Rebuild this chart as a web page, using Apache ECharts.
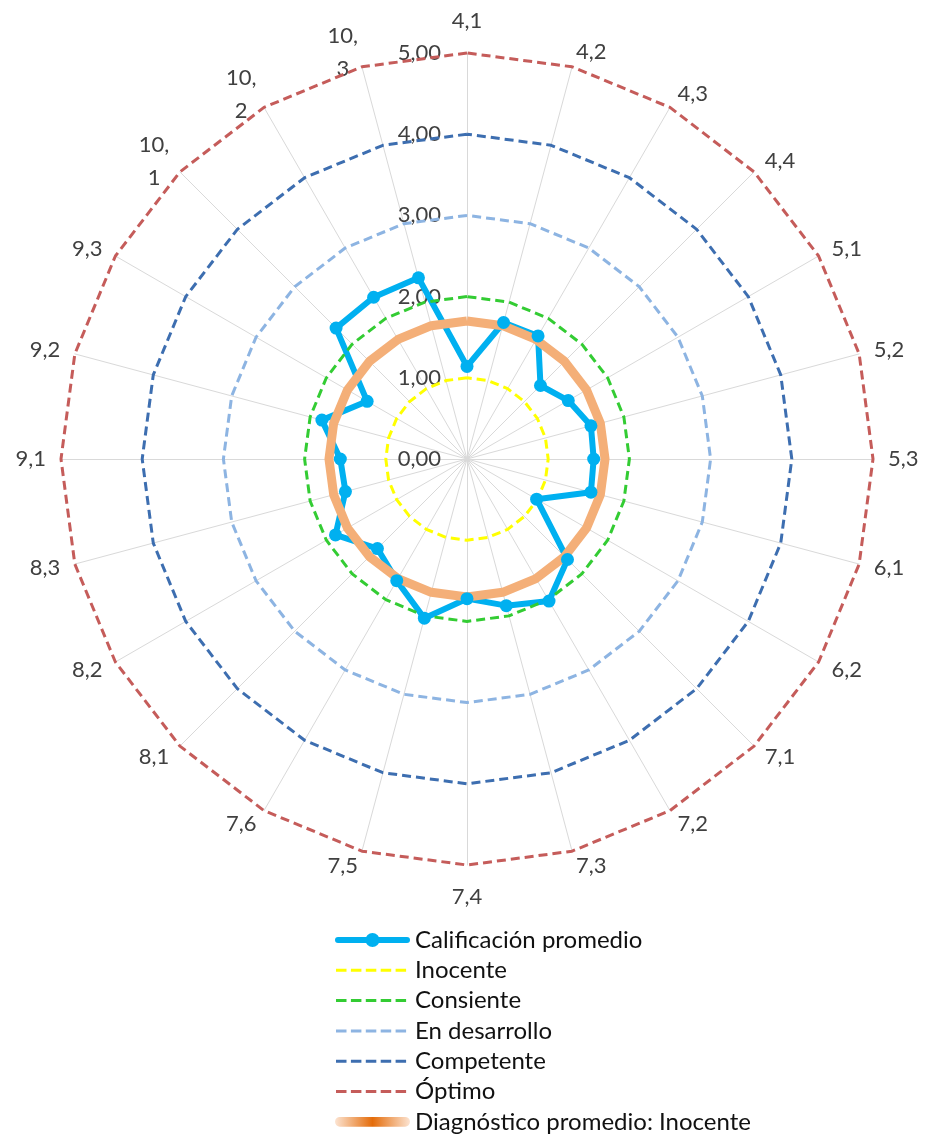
<!DOCTYPE html>
<html>
<head>
<meta charset="utf-8">
<script src="https://cdn.jsdelivr.net/npm/echarts@6/dist/echarts.min.js"></script>
<style>
html,body{margin:0;padding:0;background:#fff;}
#chart{width:929px;height:1142px;}
</style>
</head>
<body>
<div id="chart"></div>
<script>
const categories = ['4,1','4,2','4,3','4,4','5,1','5,2','5,3','6,1','6,2','7,1','7,2','7,3','7,4','7,5','7,6','8,1','8,2','8,3','9,1','9,2','9,3','10,1','10,2','10,3'];
const calificacion = [1.14,1.74,1.75,1.28,1.44,1.58,1.56,1.58,0.99,1.75,2.02,1.87,1.72,2.03,1.73,1.56,1.87,1.55,1.56,1.85,1.42,2.28,2.30,2.31];
const inocente = [1,1,1,1,1,1,1,1,1,1,1,1,1,1,1,1,1,1,1,1,1,1,1,1];
const consiente = [2,2,2,2,2,2,2,2,2,2,2,2,2,2,2,2,2,2,2,2,2,2,2,2];
const enDesarrollo = [3,3,3,3,3,3,3,3,3,3,3,3,3,3,3,3,3,3,3,3,3,3,3,3];
const competente = [4,4,4,4,4,4,4,4,4,4,4,4,4,4,4,4,4,4,4,4,4,4,4,4];
const optimo = [5,5,5,5,5,5,5,5,5,5,5,5,5,5,5,5,5,5,5,5,5,5,5,5];
const diagnostico = [1.70,1.70,1.70,1.70,1.70,1.70,1.70,1.70,1.70,1.70,1.70,1.70,1.70,1.70,1.70,1.70,1.70,1.70,1.70,1.70,1.70,1.70,1.70,1.70];
const tickLabels = ['0,00','1,00','2,00','3,00','4,00','5,00'];
const seriesNames = ['Calificación promedio','Inocente','Consiente','En desarrollo','Competente','Óptimo','Diagnóstico promedio: Inocente'];

// ECharts radar runs counter-clockwise; reorder so categories go clockwise from the top
const reorder = arr => [arr[0]].concat(arr.slice(1).reverse());

const FONT = 'Lato';
const W = 75, H = 14;
const corners = 'M0,0h0.01v0.01h-0.01z M' + (W - 0.01) + ',' + (H - 0.01) + 'h0.01v0.01h-0.01z ';
function dashPath() {
  let p = corners;
  for (let i = 0; i < 5; i++) {
    const x = 1 + i * 14.9;
    p += 'M' + x.toFixed(2) + ',5.5h10.5v3h-10.5z ';
  }
  return 'path://' + p;
}
const lineMarkerPath = 'path://' + corners +
  'M3,4h69a3,3 0 0,1 0,6h-69a3,3 0 0,1 0,-6z M30.5,7a7,7 0 1,1 14,0a7,7 0 1,1 -14,0z';
const thickPath = 'path://' + corners + 'M4,2h67a5,5 0 0,1 0,10h-67a5,5 0 0,1 0,-10z';

const colors = ['#00B0F0','#FFFF00','#33CC33','#8DB4E2','#3D6EB0','#C55C5A','#F4AF78'];
const dash = [9, 5];

const topBottom = [categories[0], categories[12]];
const nameFormatter = function (name) {
  if (name.length > 3) {
    const i = name.indexOf(',') + 1;
    return '{c|' + name.slice(0, i) + '}\n{c|' + name.slice(i) + '}';
  }
  if (topBottom.indexOf(name) >= 0) return '{v|' + name + '}';
  return name;
};

const indicators = reorder(categories).map(function (n, i) {
  const ind = { name: n, min: 0, max: 5 };
  if (i === 0) ind.axisLabel = { show: true };
  return ind;
});

function levelItem(idx, values) {
  return {
    name: seriesNames[idx],
    value: reorder(values),
    symbol: 'none',
    lineStyle: { color: colors[idx], width: 3, type: dash },
    itemStyle: { color: colors[idx] }
  };
}

const labelColor = '#404040';
const option = {
  animation: false,
  backgroundColor: '#ffffff',
  textStyle: { fontFamily: FONT },
  radar: {
    center: [467, 459],
    radius: 406,
    startAngle: 90,
    splitNumber: 5,
    shape: 'polygon',
    indicator: indicators,
    nameGap: 15,
    axisName: {
      color: labelColor, fontSize: 22, fontFamily: FONT,
      formatter: nameFormatter,
      rich: {
        c: { align: 'center', color: labelColor, fontSize: 22, fontFamily: FONT, lineHeight: 33 },
        v: { color: labelColor, fontSize: 22, fontFamily: FONT, lineHeight: 34 }
      }
    },
    axisLine: { lineStyle: { color: '#D9D9D9', width: 1 } },
    axisTick: { show: false },
    splitLine: { show: false },
    splitArea: { show: false },
    axisLabel: {
      show: false, color: labelColor, fontSize: 22, fontFamily: FONT, margin: 26,
      formatter: function (v) { return tickLabels[Math.round(v)]; }
    }
  },
  legend: {
    orient: 'vertical',
    left: 330,
    top: 923,
    itemWidth: W,
    itemHeight: H,
    itemGap: 6.3,
    textStyle: { color: '#111111', fontSize: 24, fontFamily: FONT, lineHeight: 24 },
    itemStyle: { borderWidth: 0 },
    selectedMode: false,
    data: [
      { name: seriesNames[0], icon: lineMarkerPath },
      { name: seriesNames[1], icon: dashPath() },
      { name: seriesNames[2], icon: dashPath() },
      { name: seriesNames[3], icon: dashPath() },
      { name: seriesNames[4], icon: dashPath() },
      { name: seriesNames[5], icon: dashPath() },
      { name: seriesNames[6], icon: thickPath,
        itemStyle: { color: { type: 'linear', x: 0, y: 0, x2: 1, y2: 0,
          colorStops: [{ offset: 0, color: '#FCE4D2' }, { offset: 0.5, color: '#E46C0A' }, { offset: 1, color: '#FCE4D2' }] } } }
    ]
  },
  series: [{
    type: 'radar',
    data: [
      {
        name: seriesNames[0],
        value: reorder(calificacion),
        symbol: 'circle',
        symbolSize: 13,
        lineStyle: { color: colors[0], width: 6, join: 'round' },
        itemStyle: { color: colors[0] }
      },
      levelItem(1, inocente),
      levelItem(2, consiente),
      levelItem(3, enDesarrollo),
      levelItem(4, competente),
      levelItem(5, optimo),
      {
        name: seriesNames[6],
        value: reorder(diagnostico),
        symbol: 'none',
        lineStyle: { color: colors[6], width: 9, join: 'round' },
        itemStyle: { color: colors[6] }
      }
    ]
  }]
};

const chart = echarts.init(document.getElementById('chart'), null, { renderer: 'canvas' });
chart.setOption(option);
</script>
</body>
</html>
